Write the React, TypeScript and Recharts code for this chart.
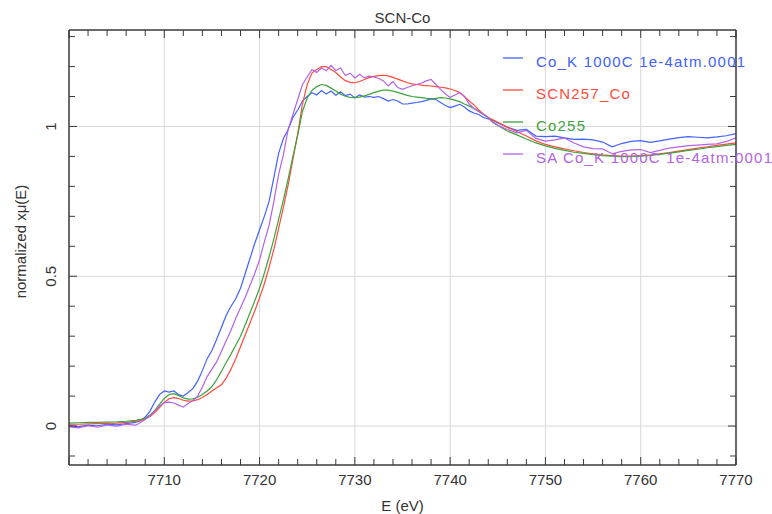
import React from 'react';
import { LineChart, Line, XAxis, YAxis, ReferenceLine, Legend } from 'recharts';

const energy = [
  7700, 7701, 7702, 7703, 7704, 7705, 7706, 7707,
  7707.5, 7708, 7708.5, 7709, 7709.5, 7710, 7710.5, 7711, 7711.5, 7712,
  7712.5, 7713, 7713.5, 7714, 7714.5, 7715, 7715.5, 7716, 7716.5, 7717,
  7717.5, 7718, 7718.5, 7719, 7719.5, 7720, 7720.5, 7721, 7721.5, 7722,
  7722.5, 7723, 7723.5, 7724, 7724.5, 7725, 7725.5, 7726, 7726.5, 7727,
  7727.5, 7728, 7728.5, 7729, 7729.5, 7730, 7730.5, 7731, 7731.5, 7732,
  7732.5, 7733, 7733.5, 7734, 7734.5, 7735, 7735.5, 7736, 7736.5, 7737,
  7737.5, 7738, 7738.5, 7739, 7739.5, 7740, 7740.5, 7741, 7741.5, 7742,
  7742.5, 7743, 7743.5, 7744, 7744.5, 7745,
  7746, 7747, 7748, 7749, 7750, 7751, 7752, 7753, 7754, 7755,
  7756, 7757, 7758, 7759, 7760, 7761, 7762, 7763, 7764, 7765,
  7766, 7767, 7768, 7769, 7770,
];

const coK1000C = [
  0.002, -0.002, 0.003, 0.001, 0.006, 0.004, 0.008, 0.012,
  0.018, 0.03, 0.05, 0.08, 0.105, 0.117, 0.113, 0.117, 0.105, 0.1,
  0.112, 0.125, 0.15, 0.185, 0.225, 0.252, 0.29, 0.33, 0.37, 0.4,
  0.425, 0.46, 0.51, 0.56, 0.61, 0.655, 0.7, 0.75, 0.83, 0.91,
  0.96, 0.99, 1.03, 1.055, 1.085, 1.1, 1.113, 1.105, 1.12, 1.108,
  1.118, 1.104, 1.116, 1.103, 1.108, 1.096, 1.105, 1.098, 1.1, 1.097,
  1.1, 1.093, 1.085, 1.09, 1.085, 1.075, 1.075, 1.078, 1.08, 1.083,
  1.087, 1.092, 1.09, 1.08, 1.07, 1.063, 1.068, 1.074, 1.065, 1.052,
  1.045, 1.04, 1.03, 1.025, 1.02, 1.012,
  0.998, 0.987, 0.99, 0.968, 0.966, 0.968, 0.962, 0.957, 0.958, 0.955,
  0.948, 0.932, 0.943, 0.95, 0.953, 0.947, 0.952, 0.958, 0.963, 0.966,
  0.964, 0.962, 0.965, 0.969, 0.976,
];

const scn257Co = [
  0.006, 0.006, 0.007, 0.008, 0.009, 0.01, 0.012, 0.016,
  0.019, 0.024, 0.032, 0.045, 0.062, 0.079, 0.091, 0.095, 0.092, 0.086,
  0.083, 0.084, 0.088, 0.095, 0.105, 0.117, 0.128, 0.138, 0.16, 0.19,
  0.225, 0.265, 0.305, 0.345, 0.385, 0.428, 0.475, 0.53, 0.59, 0.66,
  0.73, 0.805, 0.89, 0.975, 1.075, 1.14, 1.178, 1.19, 1.2, 1.2,
  1.19, 1.18, 1.165, 1.153, 1.147, 1.146, 1.15, 1.157, 1.163, 1.167,
  1.17, 1.171, 1.169, 1.164, 1.158, 1.152, 1.146, 1.142, 1.14, 1.138,
  1.136, 1.135, 1.133, 1.131, 1.129, 1.125, 1.12, 1.113, 1.1, 1.085,
  1.072, 1.055, 1.042, 1.03, 1.022, 1.014,
  0.997, 0.983, 0.968, 0.952, 0.94, 0.932, 0.925, 0.919, 0.913, 0.909,
  0.905, 0.903, 0.901, 0.901, 0.903, 0.905, 0.909, 0.913, 0.918, 0.923,
  0.928, 0.932, 0.937, 0.941, 0.945,
];

const co255 = [
  0.01, 0.011, 0.012, 0.012, 0.013, 0.014, 0.016, 0.019,
  0.022, 0.027, 0.037, 0.052, 0.072, 0.092, 0.105, 0.108, 0.102, 0.094,
  0.09, 0.091, 0.096, 0.105, 0.117, 0.132, 0.155, 0.183, 0.212, 0.24,
  0.27, 0.3, 0.338, 0.378, 0.418, 0.46, 0.51, 0.565, 0.625, 0.69,
  0.755, 0.825, 0.9, 0.97, 1.05, 1.095, 1.12, 1.133, 1.14, 1.137,
  1.128, 1.118, 1.108, 1.101, 1.097, 1.096, 1.098, 1.102, 1.107, 1.113,
  1.118, 1.121, 1.121, 1.118, 1.114, 1.109, 1.104, 1.1, 1.098, 1.096,
  1.094, 1.093, 1.094, 1.096, 1.095, 1.092, 1.088, 1.083, 1.075, 1.068,
  1.06, 1.05, 1.04, 1.03, 1.015, 1.003,
  0.985, 0.972, 0.958, 0.945, 0.935, 0.927, 0.92, 0.914, 0.91, 0.906,
  0.903, 0.901, 0.899, 0.899, 0.901, 0.903, 0.907, 0.911, 0.915, 0.92,
  0.924, 0.929, 0.933, 0.937, 0.94,
];

const saCoK1000C = [
  -0.003, -0.006, 0.001, -0.004, 0.004, 0.0, 0.006, 0.003,
  0.012, 0.022, 0.035, 0.05, 0.066, 0.078, 0.08, 0.077, 0.07, 0.063,
  0.075, 0.085, 0.1, 0.13, 0.165, 0.19, 0.215, 0.25, 0.285, 0.32,
  0.36, 0.395, 0.43, 0.47, 0.51, 0.555, 0.615, 0.67, 0.75, 0.84,
  0.906, 0.99, 1.04, 1.09, 1.14, 1.165, 1.19, 1.18, 1.195, 1.186,
  1.204, 1.187, 1.195, 1.17, 1.178, 1.162, 1.174, 1.162, 1.168, 1.165,
  1.16, 1.152, 1.135, 1.15, 1.13, 1.124, 1.13, 1.136, 1.14, 1.145,
  1.152, 1.157, 1.14, 1.124, 1.108, 1.097, 1.105, 1.113, 1.1, 1.075,
  1.06, 1.05, 1.04, 1.03, 1.012, 1.004,
  0.99, 0.979, 0.987, 0.96, 0.951, 0.955, 0.962, 0.945, 0.932, 0.926,
  0.925, 0.909, 0.917, 0.922, 0.923, 0.913, 0.92, 0.928, 0.932, 0.936,
  0.938, 0.94, 0.942, 0.95, 0.962,
];

const seriesKeys = ['coK1000C', 'scn257Co', 'co255', 'saCoK1000C'];
const seriesNames = [
  'Co_K 1000C 1e-4atm.0001',
  'SCN257_Co',
  'Co255',
  'SA Co_K 1000C 1e-4atm.0001',
];
const seriesColors = ['#4262ff', '#ff4b3b', '#3da33d', '#b362e6'];

const xTicks = [
  7700, 7702, 7704, 7706, 7708, 7710, 7712, 7714, 7716, 7718,
  7720, 7722, 7724, 7726, 7728, 7730, 7732, 7734, 7736, 7738,
  7740, 7742, 7744, 7746, 7748, 7750, 7752, 7754, 7756, 7758,
  7760, 7762, 7764, 7766, 7768, 7770,
];
const xLabelTicks = [7710, 7720, 7730, 7740, 7750, 7760, 7770];
const xGrid = [7710, 7720, 7730, 7740, 7750, 7760];
const yTicks = [-0.1, 0, 0.1, 0.2, 0.3, 0.4, 0.5, 0.6, 0.7, 0.8, 0.9, 1, 1.1, 1.2, 1.3];
const yLabelTicks = [0, 0.5, 1];
const yGrid = [0, 0.5, 1];

const chartTitle = 'SCN-Co';
const xTitle = 'E (eV)';
const yTitle = 'normalized x\u03bc(E)';

const data = energy.map((e, i) => ({
  E: e,
  coK1000C: coK1000C[i],
  scn257Co: scn257Co[i],
  co255: co255[i],
  saCoK1000C: saCoK1000C[i],
}));

const FONT = '"Liberation Sans", Arial, sans-serif';
const TEXT = '#333333';
const AXIS = '#3a3a3a';
const GRID = '#d9d9d9';

const near = (arr: number[], v: number) => arr.some((a) => Math.abs(a - v) < 1e-6);

const BottomTick = (props: any) => {
  const { x, y, payload } = props;
  const v = payload.value;
  const major = near(xLabelTicks, v) || Math.abs(v - 7700) < 1e-6;
  return (
    <g>
      <line x1={x} x2={x} y1={y} y2={y - (major ? 8 : 6)} stroke={AXIS} strokeWidth={1} />
      {near(xLabelTicks, v) && (
        <text x={x} y={y + 14} textAnchor="middle" dominantBaseline="central" fontSize={15} fill={TEXT} fontFamily={FONT}>
          {String(v)}
        </text>
      )}
    </g>
  );
};

const TopTick = (props: any) => {
  const { x, y, payload } = props;
  const v = payload.value;
  const major = near(xLabelTicks, v) || Math.abs(v - 7700) < 1e-6;
  return <line x1={x} x2={x} y1={y} y2={y + (major ? 8 : 6)} stroke={AXIS} strokeWidth={1} />;
};

const LeftTick = (props: any) => {
  const { x, y, payload } = props;
  const v = payload.value;
  const major = near(yLabelTicks, v);
  return (
    <g>
      <line x1={x} x2={x + (major ? 8 : 6)} y1={y} y2={y} stroke={AXIS} strokeWidth={1} />
      {major && (
        <text
          x={x - 18}
          y={y}
          textAnchor="middle"
          dominantBaseline="central"
          fontSize={15}
          fill={TEXT}
          fontFamily={FONT}
          transform={`rotate(-90 ${x - 18} ${y})`}
        >
          {String(v)}
        </text>
      )}
    </g>
  );
};

const RightTick = (props: any) => {
  const { x, y, payload } = props;
  const major = near(yLabelTicks, payload.value);
  return <line x1={x} x2={x - (major ? 8 : 6)} y1={y} y2={y} stroke={AXIS} strokeWidth={1} />;
};

const renderLegend = () => {
  return (
    <svg width={280} height={135} style={{ overflow: 'visible', display: 'block' }}>
      {seriesNames.map((name, i) => {
        const ly = 13 + i * 32;
        return (
          <g key={name}>
            <line x1={8} x2={28} y1={ly} y2={ly} stroke={seriesColors[i]} strokeWidth={1.3} />
            <text
              x={41}
              y={ly + 3}
              dominantBaseline="central"
              fill={seriesColors[i]}
              fontSize={15}
              letterSpacing={1.2}
              fontFamily={FONT}
            >
              {name}
            </text>
          </g>
        );
      })}
    </svg>
  );
};

export default function App() {
  return (
    <div style={{ position: 'absolute', left: 0, top: 0, width: 772, height: 514, background: '#ffffff' }}>
      <LineChart
        width={772}
        height={514}
        data={data}
        margin={{ top: 20, right: 26, bottom: 19, left: 29 }}
      >
        <XAxis
          dataKey="E"
          type="number"
          domain={[7700, 7770]}
          ticks={xTicks}
          interval={0}
          allowDataOverflow
          height={30}
          tickSize={0}
          tickMargin={0}
          tickLine={false}
          axisLine={{ stroke: AXIS, strokeWidth: 1.5 }}
          tick={<BottomTick />}
          label={{
            content: (p: any) => {
              const vb = p.viewBox || { x: 69, y: 465, width: 667, height: 30 };
              return (
                <text x={vb.x + vb.width / 2} y={vb.y + 40} textAnchor="middle" dominantBaseline="central" fontSize={15} fill={TEXT} fontFamily={FONT}>
                  {xTitle}
                </text>
              );
            },
          }}
        />
        <XAxis
          xAxisId="top"
          orientation="top"
          dataKey="E"
          type="number"
          domain={[7700, 7770]}
          ticks={xTicks}
          interval={0}
          allowDataOverflow
          height={10}
          tickSize={0}
          tickMargin={0}
          tickLine={false}
          axisLine={{ stroke: AXIS, strokeWidth: 1.5 }}
          tick={<TopTick />}
          label={{
            content: (p: any) => {
              const vb = p.viewBox || { x: 69, y: 20, width: 667, height: 10 };
              return (
                <text x={vb.x + vb.width / 2} y={vb.y + vb.height - 13} textAnchor="middle" dominantBaseline="central" fontSize={15} fill={TEXT} fontFamily={FONT}>
                  {chartTitle}
                </text>
              );
            },
          }}
        />
        <YAxis
          type="number"
          domain={[-0.13, 1.322]}
          ticks={yTicks}
          interval={0}
          allowDataOverflow
          width={40}
          tickSize={0}
          tickMargin={0}
          tickLine={false}
          axisLine={{ stroke: AXIS, strokeWidth: 1.5 }}
          tick={<LeftTick />}
          label={{
            content: (p: any) => {
              const vb = p.viewBox || { x: 29, y: 30, width: 40, height: 435 };
              const cx = vb.x + vb.width - 49;
              const cy = vb.y + vb.height / 2 - 6;
              return (
                <text x={cx} y={cy} textAnchor="middle" dominantBaseline="central" fontSize={15} fill={TEXT} fontFamily={FONT} transform={`rotate(-90 ${cx} ${cy})`}>
                  {yTitle}
                </text>
              );
            },
          }}
        />
        <YAxis
          yAxisId="right"
          orientation="right"
          type="number"
          domain={[-0.13, 1.322]}
          ticks={yTicks}
          interval={0}
          allowDataOverflow
          width={10}
          tickSize={0}
          tickMargin={0}
          tickLine={false}
          axisLine={{ stroke: AXIS, strokeWidth: 1.5 }}
          tick={<RightTick />}
        />
        {xGrid.map((g) => (
          <ReferenceLine key={'gx' + g} x={g} stroke={GRID} strokeWidth={1} />
        ))}
        {yGrid.map((g) => (
          <ReferenceLine key={'gy' + g} y={g} stroke={GRID} strokeWidth={1} />
        ))}
        {seriesKeys.map((k, i) => (
          <Line
            key={k}
            dataKey={k}
            name={seriesNames[i]}
            stroke={seriesColors[i]}
            strokeWidth={1.2}
            dot={false}
            activeDot={false}
            type="linear"
            isAnimationActive={false}
          />
        ))}
        <Legend
          layout="vertical"
          align="center"
          verticalAlign="middle"
          content={renderLegend}
          wrapperStyle={{ left: 495, top: 45, width: 280, height: 135 }}
        />
      </LineChart>
    </div>
  );
}
